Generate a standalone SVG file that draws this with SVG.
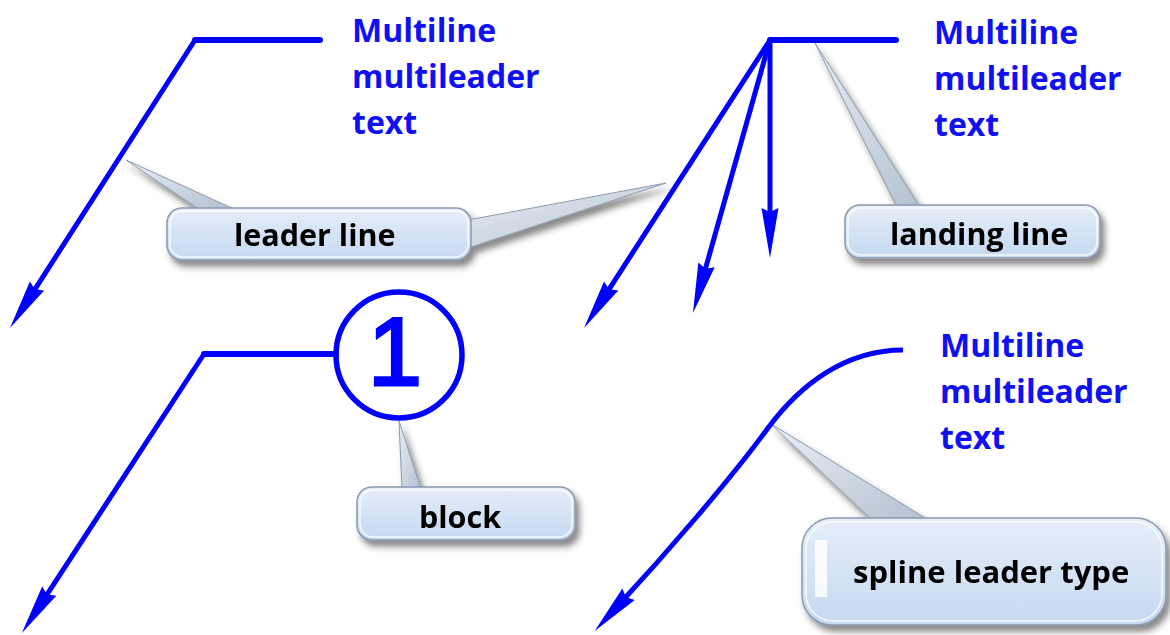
<svg xmlns="http://www.w3.org/2000/svg" width="1170" height="635" viewBox="0 0 1170 635">
  <defs>
    <style>
      .ld { fill: none; stroke: #0000ff; stroke-width: 5; stroke-linejoin: miter; }
      .land { fill: none; stroke: #0000ff; stroke-width: 6; stroke-linecap: round; }
      .mt { font-family: "Open Sans", "Liberation Sans", sans-serif; font-weight: 700; font-size: 32px; fill: #1010f5; }
      .ct { font-family: "Open Sans", "Liberation Sans", sans-serif; font-weight: 700; font-size: 30.5px; fill: #000; }
      .box { fill: url(#boxg); stroke: #8a99ad; stroke-width: 1.5; }
      .hl { fill: none; stroke: #ffffff; stroke-width: 1.5; opacity: 0.8; }
      .tail { fill: url(#tailg); stroke: #8d9bb0; stroke-width: 1; }
      .cal { filter: url(#sh); }
    </style>
    <linearGradient id="boxg" x1="0" y1="0" x2="0" y2="1">
      <stop offset="0" stop-color="#e6eef9"/>
      <stop offset="0.5" stop-color="#d5e3f5"/>
      <stop offset="1" stop-color="#c7d9ef"/>
    </linearGradient>
    <linearGradient id="tailg" x1="0" y1="0" x2="1" y2="1">
      <stop offset="0" stop-color="#e9eff6"/>
      <stop offset="1" stop-color="#b3c0cf"/>
    </linearGradient>
    <filter id="sh" x="-20%" y="-20%" width="150%" height="160%">
      <feDropShadow dx="4" dy="6" stdDeviation="3" flood-color="#2a2a2a" flood-opacity="0.55"/>
    </filter>
    <marker id="arr" viewBox="-22 -10 54 20" refX="0" refY="0" markerWidth="54" markerHeight="20" markerUnits="userSpaceOnUse" orient="auto">
      <path d="M30,0 L-20,-8.5 L-16,0 L-20,8.5 Z" fill="#0000ff"/>
    </marker>
  </defs>

  <rect width="1170" height="635" fill="#ffffff"/>

  <!-- callouts (drawn under leaders) -->
  <g id="callout-leader-line" class="cal">
    <polygon class="tail" points="126,160 200,210 236,210"/>
    <polygon class="tail" points="666,183 468,220 468,248"/>
    <rect class="box" x="167" y="208" width="304" height="52" rx="15"/>
    <rect class="hl" x="170" y="211" width="298" height="46" rx="13"/>
    <text class="ct" x="234" y="246">leader line</text>
  </g>

  <g id="callout-landing-line" class="cal">
    <polygon class="tail" points="815,43 897,207 920,207"/>
    <rect class="box" x="845" y="205" width="255" height="53" rx="15"/>
    <rect class="hl" x="848" y="208" width="249" height="47" rx="13"/>
    <text class="ct" x="890" y="245">landing line</text>
  </g>

  <g id="callout-block" class="cal">
    <polygon class="tail" points="399,421 402,489 421,489"/>
    <rect class="box" x="357" y="487" width="218" height="53" rx="15"/>
    <rect class="hl" x="360" y="490" width="212" height="47" rx="13"/>
    <text class="ct" x="419" y="528">block</text>
  </g>

  <g id="callout-spline" class="cal">
    <polygon class="tail" points="771,424 874,522 932,522"/>
    <rect class="box" x="802" y="518" width="364" height="107" rx="30"/>
    <rect class="hl" x="806" y="522" width="356" height="99" rx="27"/>
    <rect x="815" y="540" width="12" height="57" fill="#ffffff" opacity="0.85"/>
    <text class="ct" x="853" y="583" style="font-size:31px">spline leader type</text>
  </g>

  <!-- connectors -->
  <g id="connectors">
    <path id="leader-tl" class="ld" d="M195,40 L26.2,302.8" marker-end="url(#arr)"/>
    <line class="land" x1="195" y1="40" x2="320" y2="40"/>

    <path id="leader-tr-1" class="ld" d="M770,40 L600.3,302.8" marker-end="url(#arr)"/>
    <path id="leader-tr-2" class="ld" d="M770,40 L701.1,284.1" marker-end="url(#arr)"/>
    <path id="leader-tr-3" class="ld" d="M770,40 L770,228" marker-end="url(#arr)"/>
    <line class="land" x1="770" y1="40" x2="896" y2="40"/>

    <path id="leader-bl" class="ld" d="M204,354 L38.3,607.8" marker-end="url(#arr)"/>
    <line class="land" x1="204" y1="354" x2="336" y2="354"/>

    <path id="leader-br" class="ld" d="M903,350 C845,350 800,385 768,428 C730,480 665,555 615,609" marker-end="url(#arr)"/>
  </g>

  <!-- multileader texts -->
  <g id="mtext-tl">
    <text class="mt" x="352" y="42">Multiline</text>
    <text class="mt" x="352" y="88">multileader</text>
    <text class="mt" x="352" y="134">text</text>
  </g>
  <g id="mtext-tr">
    <text class="mt" x="934" y="44">Multiline</text>
    <text class="mt" x="934" y="90">multileader</text>
    <text class="mt" x="934" y="136">text</text>
  </g>
  <g id="mtext-br">
    <text class="mt" x="940" y="357">Multiline</text>
    <text class="mt" x="940" y="403">multileader</text>
    <text class="mt" x="940" y="449">text</text>
  </g>

  <!-- block -->
  <g id="block-1">
    <circle cx="399" cy="355" r="63" fill="none" stroke="#0000ff" stroke-width="5.5"/>
    <text x="395" y="385" text-anchor="middle" font-family="Liberation Sans, Arial, sans-serif" font-size="97" fill="#0000ff" stroke="#0000ff" stroke-width="3">1</text>
  </g>
</svg>
